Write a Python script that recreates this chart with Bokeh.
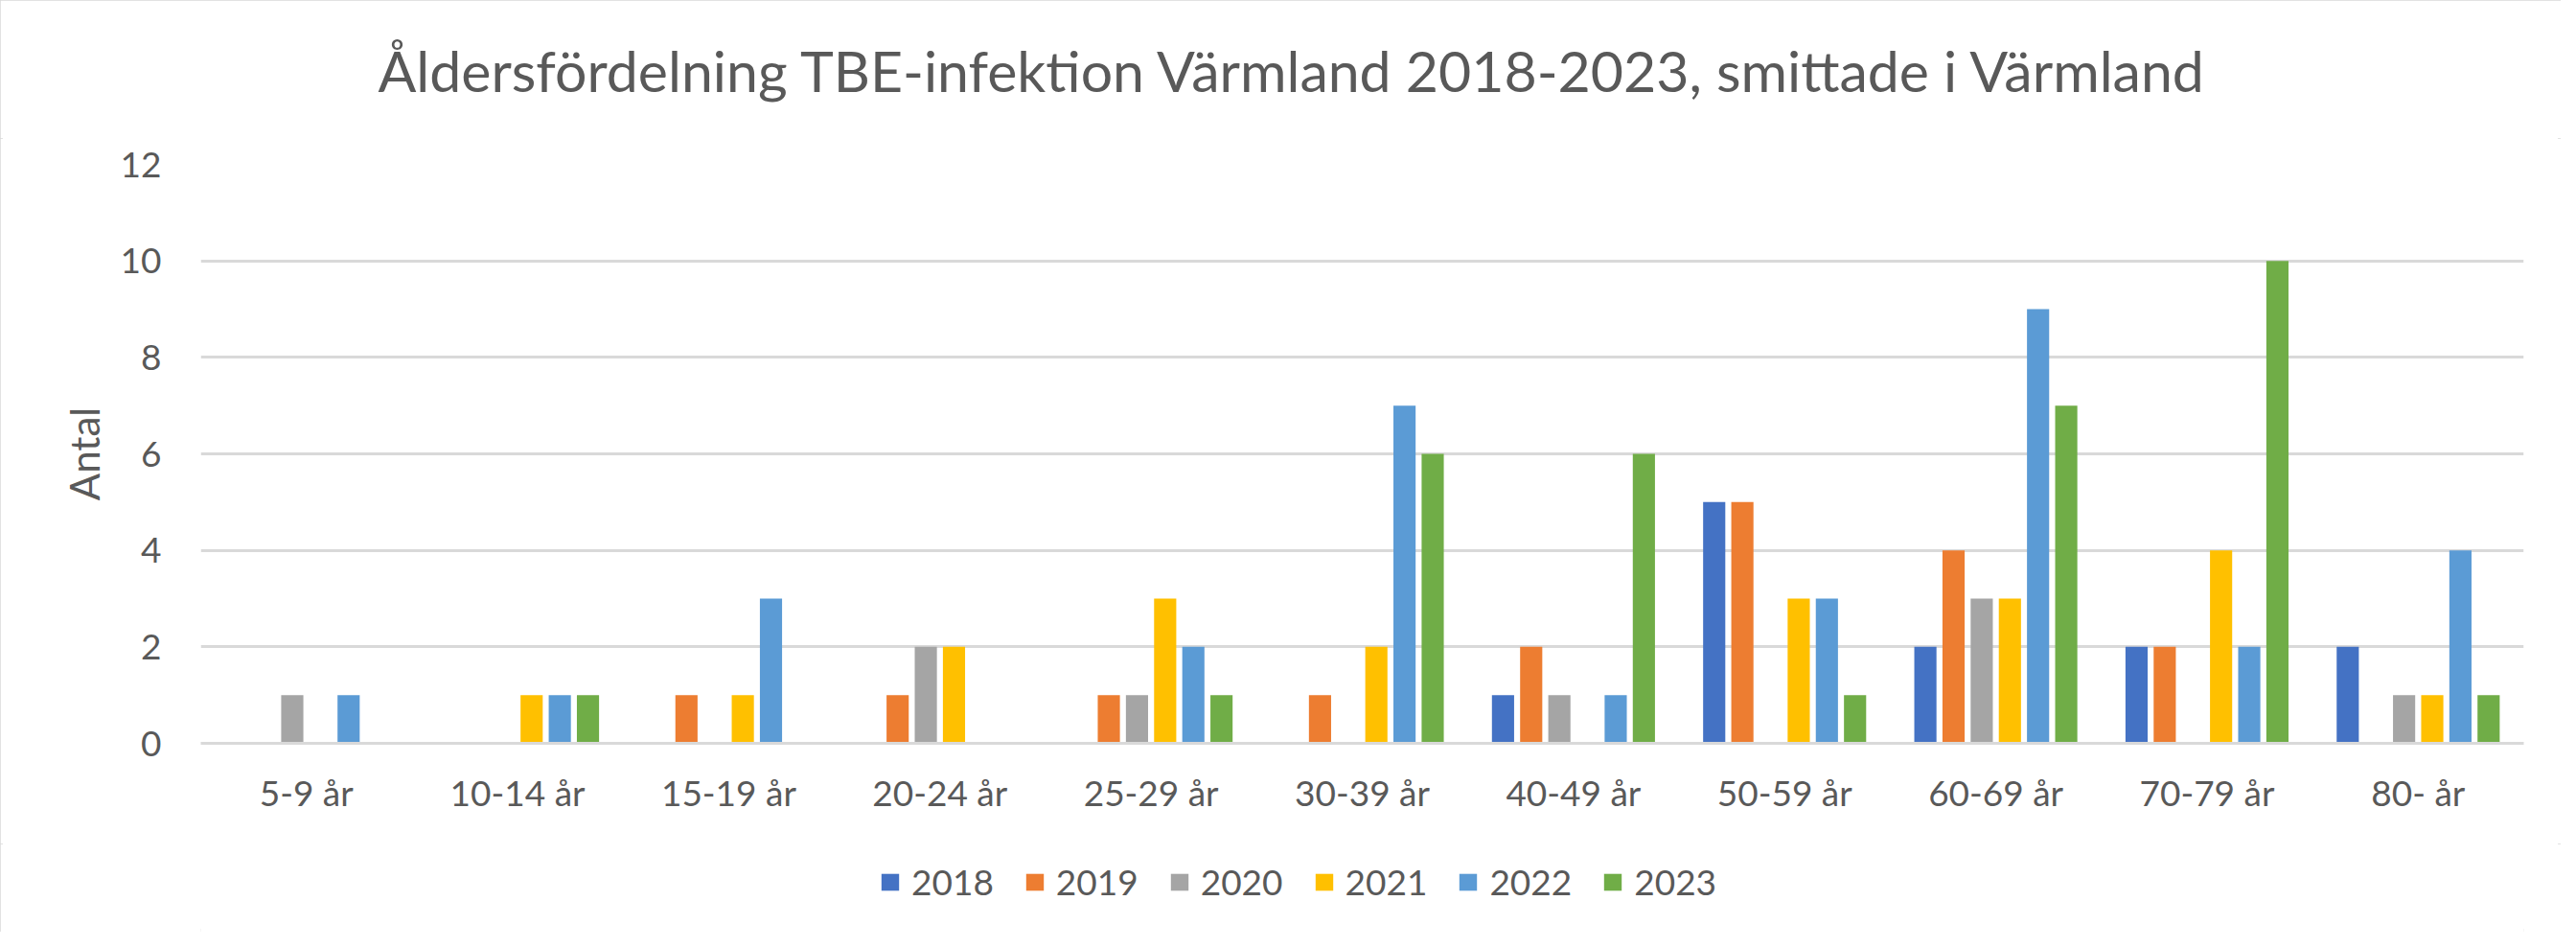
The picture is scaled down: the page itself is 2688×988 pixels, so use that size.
from bokeh.plotting import figure
from bokeh.layouts import column
from bokeh.models import ColumnDataSource, FactorRange, Range1d, Legend, LegendItem, FixedTicker
from bokeh.transform import dodge
from bokeh.embed import file_html
from bokeh.resources import INLINE

categories = ["5-9 år", "10-14 år", "15-19 år", "20-24 år", "25-29 år", "30-39 år",
              "40-49 år", "50-59 år", "60-69 år", "70-79 år", "80- år"]
years = ["2018", "2019", "2020", "2021", "2022", "2023"]
v2018 = [0, 0, 0, 0, 0, 0, 1, 5, 2, 2, 2]
v2019 = [0, 0, 1, 1, 1, 1, 2, 5, 4, 2, 0]
v2020 = [1, 0, 0, 2, 1, 0, 1, 0, 3, 0, 1]
v2021 = [0, 1, 1, 2, 3, 2, 0, 3, 3, 4, 1]
v2022 = [1, 1, 3, 0, 2, 7, 1, 3, 9, 2, 4]
v2023 = [0, 1, 0, 0, 1, 6, 6, 1, 7, 10, 1]
colors = ["#4472C4", "#ED7D31", "#A5A5A5", "#FFC000", "#5B9BD5", "#70AD47"]
y_ticks = [0, 2, 4, 6, 8, 10, 12]

title_text = "Åldersfördelning TBE-infektion Värmland 2018-2023, smittade i Värmland"
TXT = "#595959"
GRID = "#D9D9D9"
FONT = "Lato"

src = ColumnDataSource(dict(cat=categories, y2018=v2018, y2019=v2019, y2020=v2020,
                            y2021=v2021, y2022=v2022, y2023=v2023))

W = 2672
H0 = 144
H1 = 880 - H0
H2 = 92
xr = FactorRange(*categories, range_padding=0)
step = 0.1334
bw = 0.105

# title strip
p0 = figure(width=W, height=H0, output_backend="svg", toolbar_location=None,
            x_range=xr, y_range=Range1d(20, 21),
            x_axis_location=None, y_axis_location=None,
            min_border_left=209, min_border_right=39, min_border_top=0, min_border_bottom=0)
p0.grid.grid_line_color = None
p0.outline_line_color = None
p0.title.text = title_text
p0.title.align = "left"
p0.title.offset = 185
p0.title.text_font = FONT
p0.title.text_font_size = "59px"
p0.title.text_font_style = "normal"
p0.title.text_color = TXT
p0.title.standoff = 70

# main chart
p = figure(x_range=xr, y_range=Range1d(0, 12),
           width=W, height=H1, output_backend="svg", toolbar_location=None,
           min_border_left=209, min_border_right=39, min_border_top=171 - H0, min_border_bottom=105)

for i, yr in enumerate(years):
    p.vbar(x=dodge("cat", (i - 2.5) * step, range=xr), top="y" + yr, width=bw,
           source=src, fill_color=colors[i], line_color=None)

p.outline_line_color = None
p.xgrid.grid_line_color = None
p.ygrid.grid_line_color = GRID
p.ygrid.grid_line_width = 3
p.yaxis.ticker = FixedTicker(ticks=y_ticks)

for ax in (p.xaxis[0], p.yaxis[0]):
    ax.major_tick_line_color = None
    ax.minor_tick_line_color = None
    ax.major_label_text_font = FONT
    ax.major_label_text_font_size = "37px"
    ax.major_label_text_color = TXT

p.xaxis.axis_line_color = GRID
p.xaxis.axis_line_width = 3
p.xaxis.major_label_standoff = 22
p.yaxis.axis_line_color = None
p.yaxis.major_label_standoff = 35
p.yaxis.axis_label = "Antal"
p.yaxis.axis_label_text_font = FONT
p.yaxis.axis_label_text_font_size = "42px"
p.yaxis.axis_label_text_font_style = "normal"
p.yaxis.axis_label_text_color = TXT
p.yaxis.axis_label_standoff = 10

# legend strip (same bars, below its visible y range; only the legend shows)
p2 = figure(width=W, height=H2, output_backend="svg", toolbar_location=None,
            x_range=xr, y_range=Range1d(20, 21),
            x_axis_location=None, y_axis_location=None,
            min_border_left=209, min_border_right=39, min_border_top=0, min_border_bottom=0)
p2.grid.grid_line_color = None
p2.outline_line_color = None
items = []
for i, yr in enumerate(years):
    r = p2.vbar(x=dodge("cat", (i - 2.5) * step, range=xr), top="y" + yr, width=bw,
                source=src, fill_color=colors[i], line_color=None)
    items.append(LegendItem(label=yr, renderers=[r]))
legend = Legend(items=items, orientation="horizontal", location=(708, 30),
                glyph_width=23, glyph_height=22, label_standoff=11, spacing=31,
                padding=0, margin=0, background_fill_alpha=0, border_line_color=None,
                label_text_font=FONT, label_text_font_size="37px", label_text_color=TXT)
p2.add_layout(legend, "center")

layout = column(p0, p, p2, spacing=0)
layout.styles = {"outline": "3px solid #D9D9D9", "outline-offset": "-3px"}

open("out.html", "w").write(file_html(layout, INLINE))
